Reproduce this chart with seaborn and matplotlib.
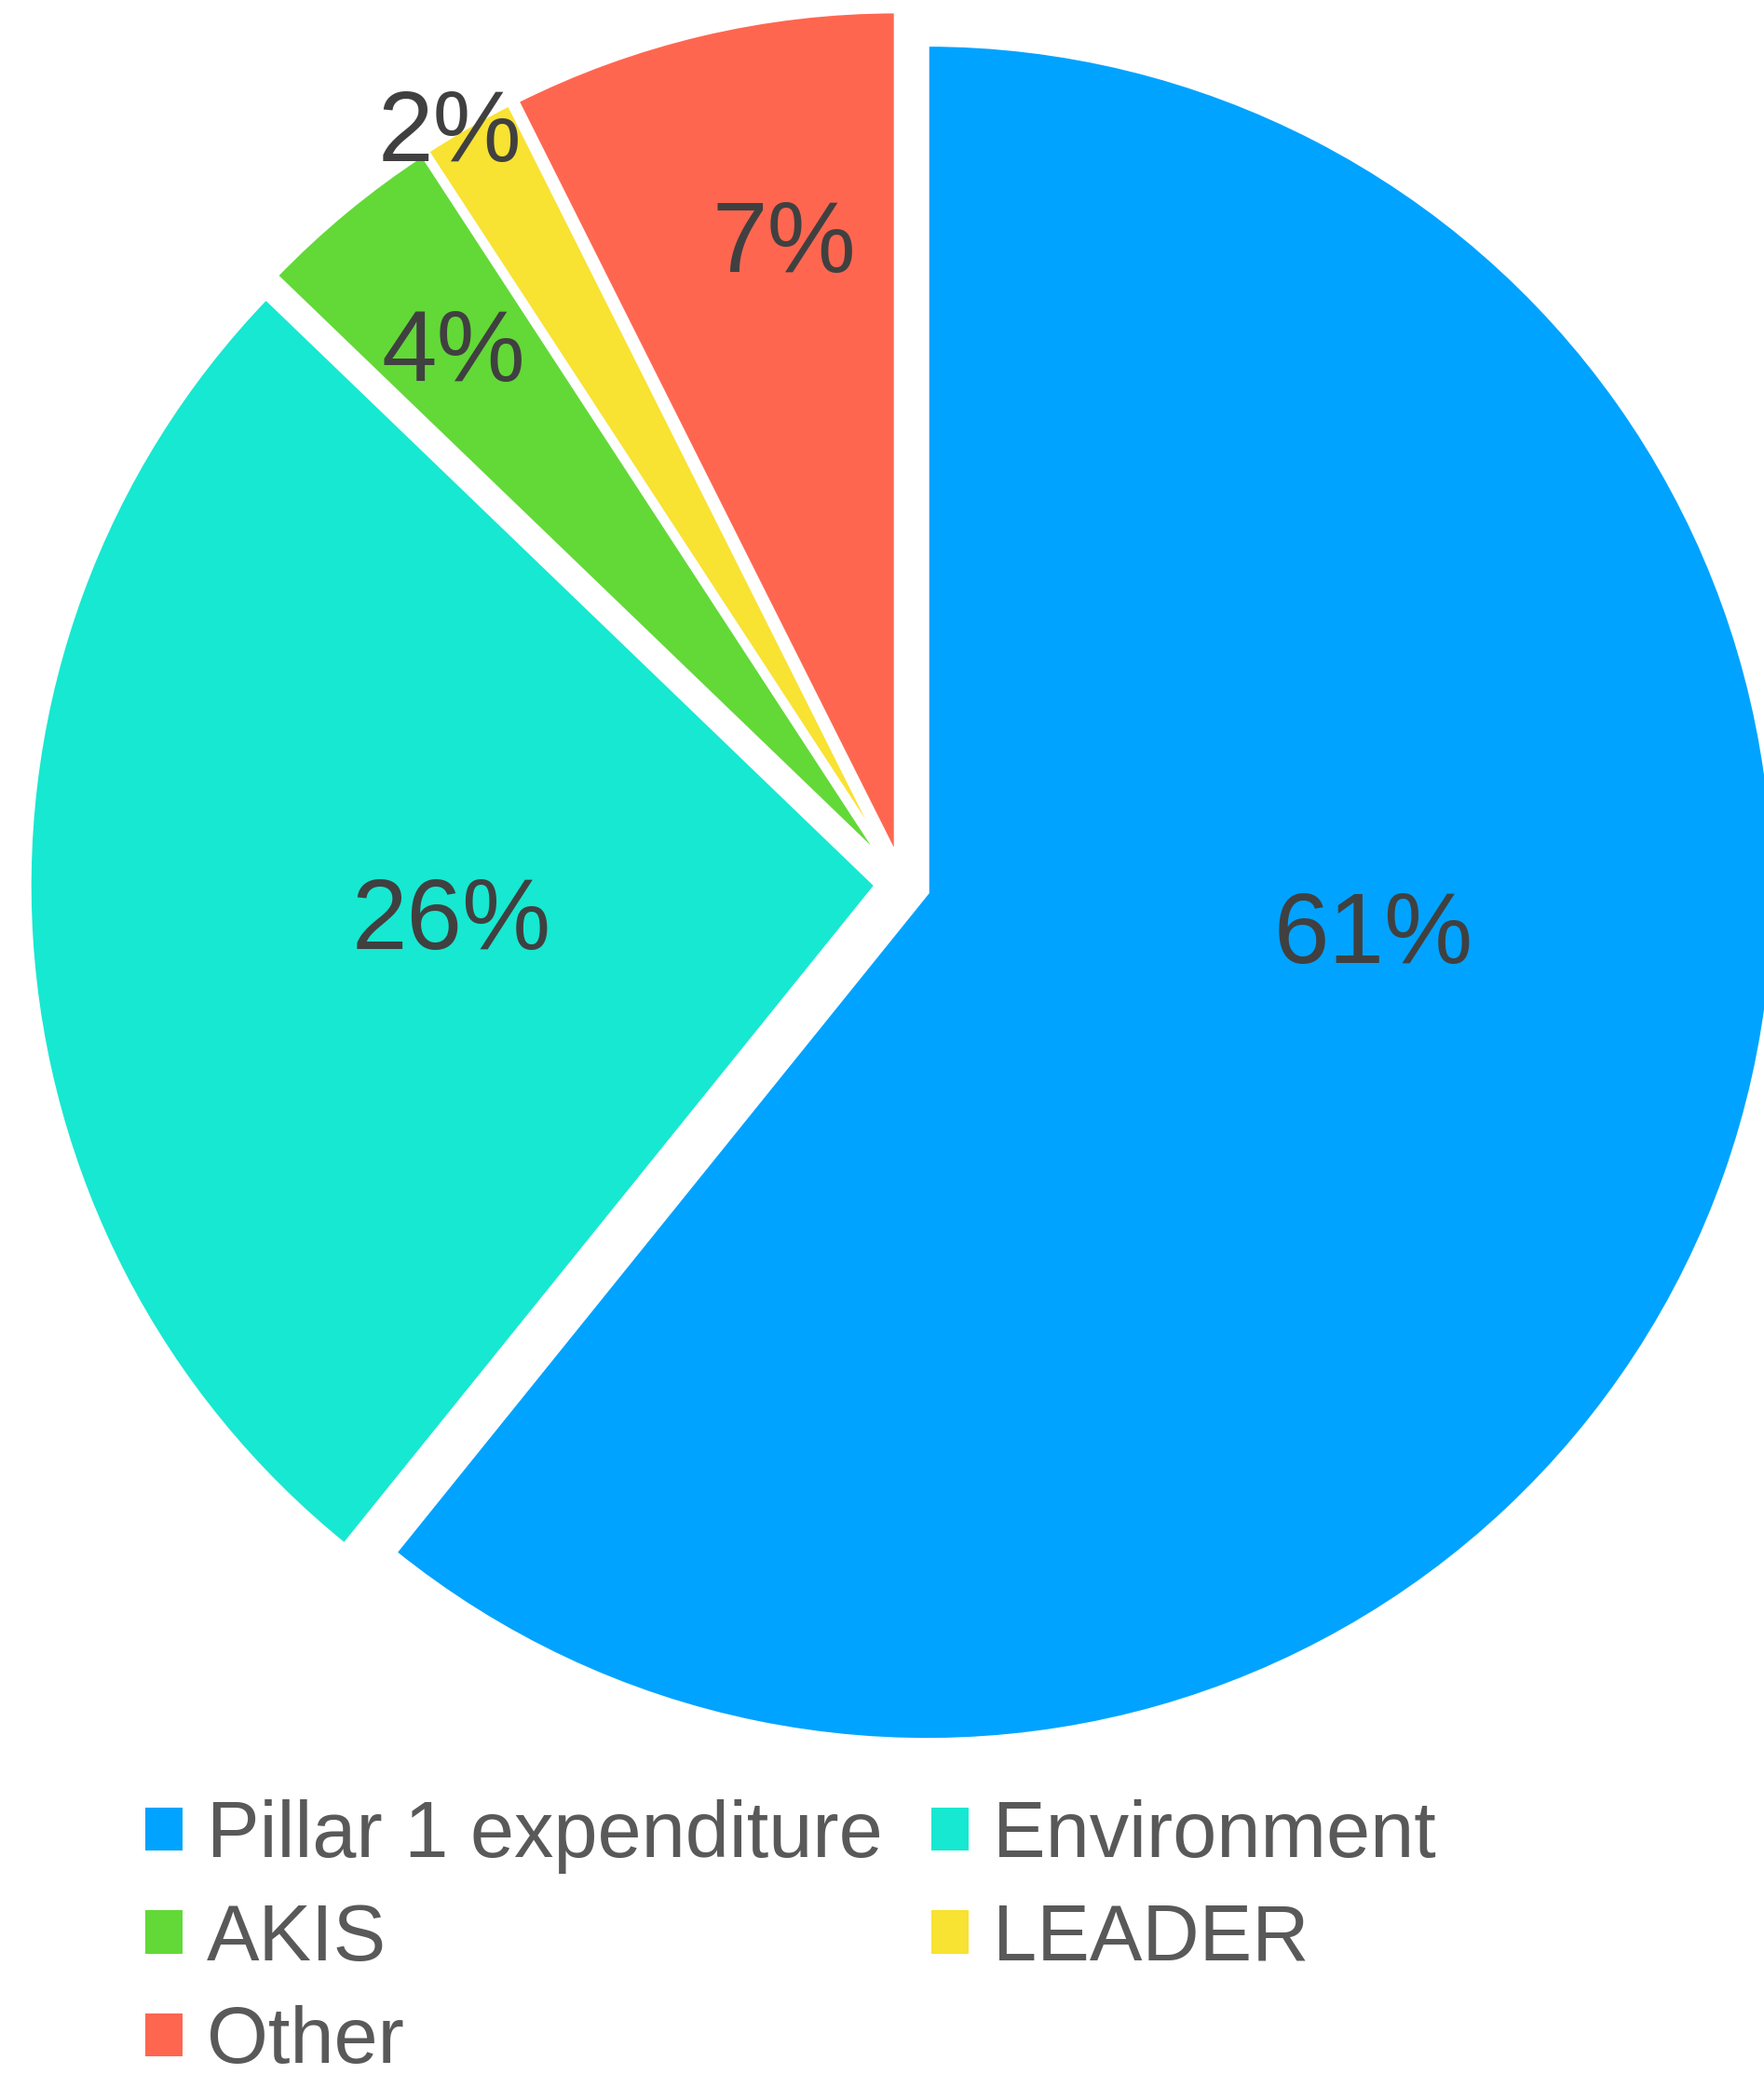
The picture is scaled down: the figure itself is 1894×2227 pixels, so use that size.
import matplotlib
matplotlib.use("Agg")
import matplotlib.pyplot as plt
from matplotlib.patches import Patch
import seaborn as sns

# ---- data ----
categories = ["Pillar 1 expenditure", "Environment", "AKIS", "LEADER", "Other"]
shares = [60.8, 26.4, 3.6, 1.8, 7.4]
colors_hex = ["#00A3FF", "#17E8D1", "#62D937", "#F8E232", "#FF6650"]

sns.set_style("white")
plt.rcParams["font.family"] = ["Liberation Sans", "DejaVu Sans"]
palette = sns.color_palette(colors_hex)

W, H = 1894, 2227
fig = plt.figure(figsize=(W / 100, H / 100), dpi=100)

# pie geometry in pixels
R = 911.0
cx, cy = 969.0, 949.0  # from top
half = 1.1
side = 2 * half * R
ax = fig.add_axes([(cx - side / 2) / W, (H - cy - side / 2) / H, side / W, side / H])

wedges, texts, autotexts = ax.pie(
    shares,
    colors=palette,
    startangle=90,
    counterclock=False,
    explode=[0.03] * len(shares),
    autopct="%1.0f%%",
    pctdistance=0.6,
    wedgeprops=dict(edgecolor="white", linewidth=4.3),
    textprops=dict(fontsize=77, color="#404040"),
)
ax.set_xlim(-half, half)
ax.set_ylim(-half, half)
ax.set_axis_off()

# label placement (layout)
label_pos = [(0.555, -0.063), (-0.532, -0.046), (-0.529, 0.624), (-0.533, 0.883), (-0.139, 0.752)]
for t, p in zip(autotexts, label_pos):
    t.set_position(p)
    t.set_ha("center")
    t.set_va("center")

# legend: two columns, row-major order like the original
order = [0, 2, 4, 1, 3]
handles = [Patch(facecolor=palette[i], edgecolor="none") for i in order]
labels = [categories[i] for i in order]
fig.legend(
    handles, labels,
    loc="upper left",
    bbox_to_anchor=(156 / W, 1 - 1932 / H),
    ncol=2, frameon=False, fontsize=61,
    handlelength=0.47, handleheight=0.47, handletextpad=0.31,
    columnspacing=0.62, labelspacing=0.36,
    borderpad=0, borderaxespad=0,
    labelcolor="#595959",
)

fig.savefig("out.png", dpi=100)
